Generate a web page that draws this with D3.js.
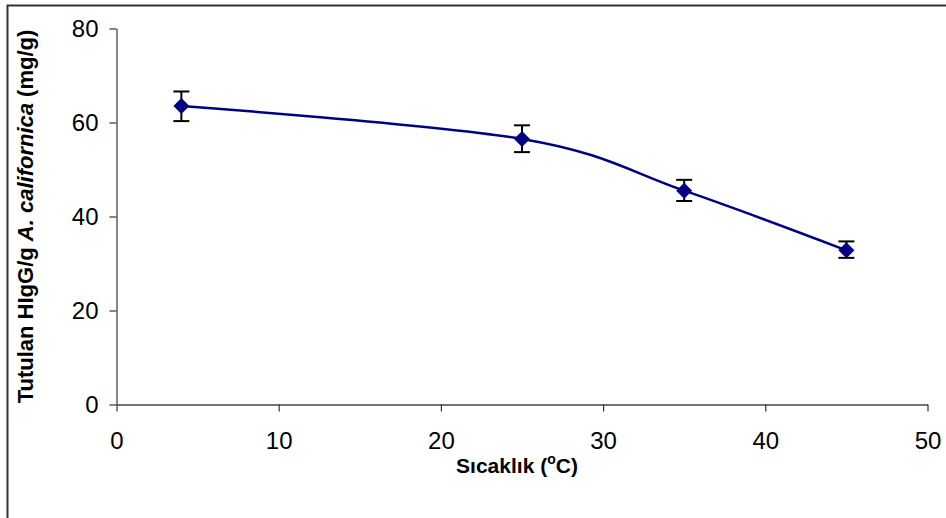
<!DOCTYPE html>
<html><head><meta charset="utf-8">
<script src="https://cdn.jsdelivr.net/npm/d3@7"></script>
<style>body{margin:0;background:#fff}svg{display:block}</style>
</head><body>
<script>
const temps = [4, 25, 35, 45];
const bound = [63.5, 56.5, 45.5, 32.8];
const errLow = [60.3, 53.7, 43.3, 31.2];
const errHigh = [66.6, 59.4, 47.8, 34.7];
const xTicks = [0, 10, 20, 30, 40, 50];
const yTicks = [0, 20, 40, 60, 80];

const W = 946, H = 518;
const svg = d3.select("body").append("svg").attr("width", W).attr("height", H);
svg.append("rect").attr("x", 7.5).attr("y", 5.5).attr("width", 960).attr("height", 530)
  .attr("fill", "none").attr("stroke", "#333").attr("stroke-width", 2);

const x = d3.scaleLinear().domain([0, 50]).range([116.5, 927.5]);
const y = d3.scaleLinear().domain([0, 80]).range([404.5, 28.5]);
const font = "'Liberation Sans', Arial, sans-serif";

const gx = svg.append("g").attr("transform", `translate(0,${y(0)})`)
  .call(d3.axisBottom(x).tickValues(xTicks).tickSize(7).tickSizeOuter(0).tickPadding(20));
const gy = svg.append("g").attr("transform", `translate(${x(0)},0)`)
  .call(d3.axisLeft(y).tickValues(yTicks).tickSize(7).tickSizeOuter(0).tickPadding(11));
[gx, gy].forEach(g => {
  g.select(".domain").attr("stroke", "#444").attr("stroke-width", 1.3);
  g.selectAll(".tick line").attr("stroke", "#333").attr("stroke-width", 1.2);
  g.selectAll("text").attr("font-family", font).attr("font-size", 24).attr("fill", "#000");
});

const data = temps.map((t, i) => ({t, v: bound[i], lo: errLow[i], hi: errHigh[i]}));
const line = d3.line().x(d => x(d.t)).y(d => y(d.v)).curve(d3.curveCardinal.tension(0));
svg.append("path").datum(data).attr("d", line).attr("fill", "none")
  .attr("stroke", "#000080").attr("stroke-width", 2.5);

const eb = svg.append("g").attr("stroke", "#000").attr("stroke-width", 2);
data.forEach(d => {
  eb.append("line").attr("x1", x(d.t)).attr("x2", x(d.t)).attr("y1", y(d.lo)).attr("y2", y(d.hi));
  eb.append("line").attr("x1", x(d.t) - 8).attr("x2", x(d.t) + 8).attr("y1", y(d.lo)).attr("y2", y(d.lo));
  eb.append("line").attr("x1", x(d.t) - 8).attr("x2", x(d.t) + 8).attr("y1", y(d.hi)).attr("y2", y(d.hi));
});

svg.append("g").selectAll("path").data(data).join("path")
  .attr("transform", d => `translate(${x(d.t)},${y(d.v)})`)
  .attr("d", "M0,-8L8,0L0,8L-8,0Z").attr("fill", "#000080");

const xt = svg.append("text").attr("x", 517).attr("y", 473).attr("text-anchor", "middle")
  .attr("font-family", font).attr("font-weight", "bold").attr("font-size", 21);
xt.append("tspan").text("Sıcaklık (");
xt.append("tspan").attr("dy", -9).attr("font-size", 14).text("o");
xt.append("tspan").attr("dy", 9).text("C)");

const yt = svg.append("text").attr("transform", "translate(33,216.5) rotate(-90)").attr("text-anchor", "middle")
  .attr("font-family", font).attr("font-weight", "bold").attr("font-size", 22);
yt.append("tspan").text("Tutulan HIgG/g ");
yt.append("tspan").attr("font-style", "italic").text("A. californica");
yt.append("tspan").text(" (mg/g)");
</script>
</body></html>
